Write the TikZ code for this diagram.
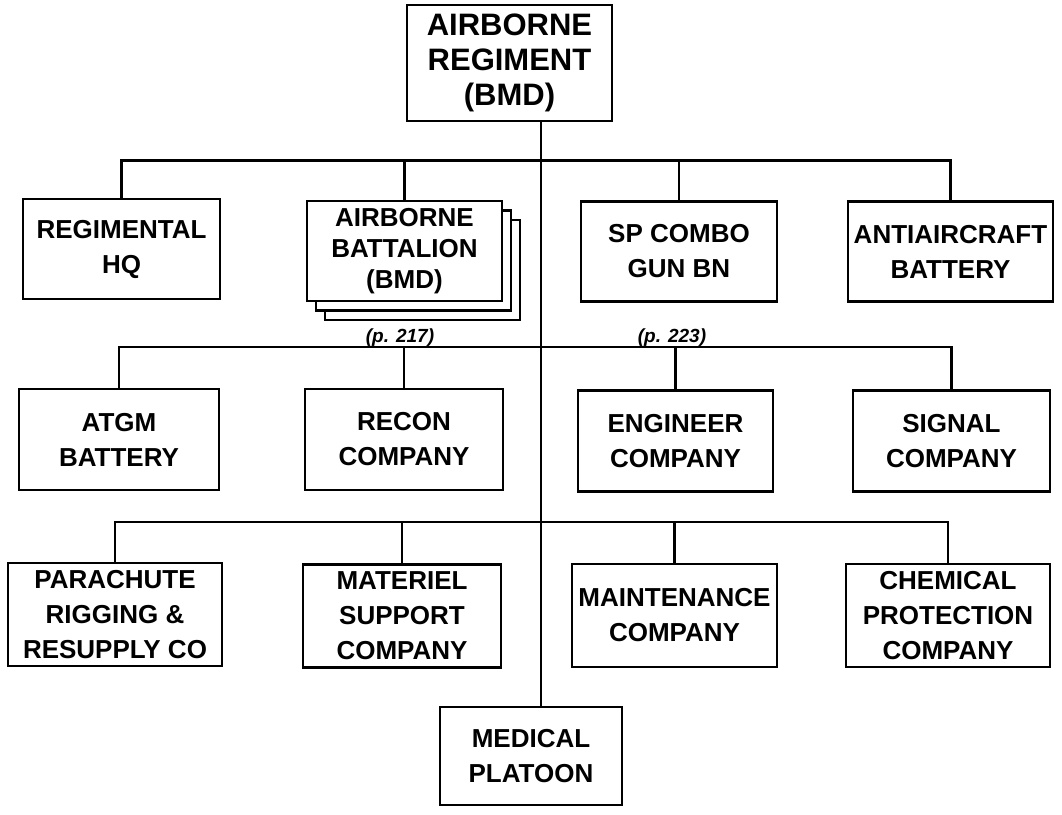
\documentclass[tikz,border=0pt]{standalone}
\usepackage{fontspec}
\setmainfont{Liberation Sans}
\usetikzlibrary{shadows}
\begin{document}
\begin{tikzpicture}[x=1pt,y=-1pt,
  box/.style={draw, line width=2.8pt, fill=white, align=center, inner sep=0pt,
    font=\fontsize{26}{35}\selectfont\bfseries},
  r1/.style={box, minimum height=100pt},
  r2/.style={box, minimum height=101pt},
  r3/.style={box, minimum height=103pt},
  conn/.style={line width=2.4pt},
  lbl/.style={font=\fontsize{19}{22}\selectfont\bfseries\itshape, inner sep=0pt, anchor=base}]
\useasboundingbox (0,0) rectangle (1062,814);

% top
\node[box, font=\fontsize{31}{35}\selectfont\bfseries, minimum width=205pt, minimum height=116pt] (top) at (509.5,63) {AIRBORNE\\REGIMENT\\(BMD)};

% row 1
\node[r1, minimum width=197pt] (reghq) at (121.5,249) {REGIMENTAL\\HQ};
\node[r1, minimum width=195pt, font=\fontsize{26}{31}\selectfont\bfseries,
  double copy shadow={shadow xshift=9pt, shadow yshift=-9.5pt}] (ab) at (404.5,251) {AIRBORNE\\BATTALION\\(BMD)};
\node[r1, minimum width=196pt] (sp) at (679,251.5) {SP COMBO\\GUN BN};
\node[r1, minimum width=205pt] (aa) at (950.5,251.5) {ANTIAIRCRAFT\\BATTERY};

% row 2
\node[r2, minimum width=200pt] (atgm) at (119,439.5) {ATGM\\BATTERY};
\node[r2, minimum width=198pt] (recon) at (404,439.5) {RECON\\COMPANY};
\node[r2, minimum width=195pt] (eng) at (675.5,441) {ENGINEER\\COMPANY};
\node[r2, minimum width=197pt] (sig) at (951.5,441) {SIGNAL\\COMPANY};

% row 3
\node[r3, minimum width=214pt] (para) at (115,614.5) {PARACHUTE\\RIGGING \&\\RESUPPLY CO};
\node[r3, minimum width=198pt] (mat) at (402,616) {MATERIEL\\SUPPORT\\COMPANY};
\node[r3, minimum width=205pt] (maint) at (674.5,615.5) {MAINTENANCE\\COMPANY};
\node[r3, minimum width=204pt] (chem) at (948,615.5) {CHEMICAL\\PROTECTION\\COMPANY};

% medical
\node[box, minimum width=182pt, minimum height=98pt] (med) at (531,756) {MEDICAL\\PLATOON};

% trunk and buses
\coordinate (trunk) at (541,121);
\coordinate (b1) at (541,160.5);
\coordinate (b2) at (541,347);
\coordinate (b3) at (541,522);
\draw[conn] (trunk) -- (trunk |- med.north);

\draw[conn] (reghq.north) |- (b1) -| (aa.north);
\draw[conn] (ab.north) -- (ab.north |- b1);
\draw[conn] (sp.north) -- (sp.north |- b1);

\draw[conn] (atgm.north) |- (b2) -| (sig.north);
\draw[conn] (recon.north) -- (recon.north |- b2);
\draw[conn] (eng.north) -- (eng.north |- b2);

\draw[conn] (para.north) |- (b3) -| (chem.north);
\draw[conn] (mat.north) -- (mat.north |- b3);
\draw[conn] (maint.north) -- (maint.north |- b3);

% page references
\node[lbl] (p217) at (400,342) {(p. 217)};
\node[lbl] (p223) at (672,342) {(p. 223)};
\end{tikzpicture}
\end{document}
